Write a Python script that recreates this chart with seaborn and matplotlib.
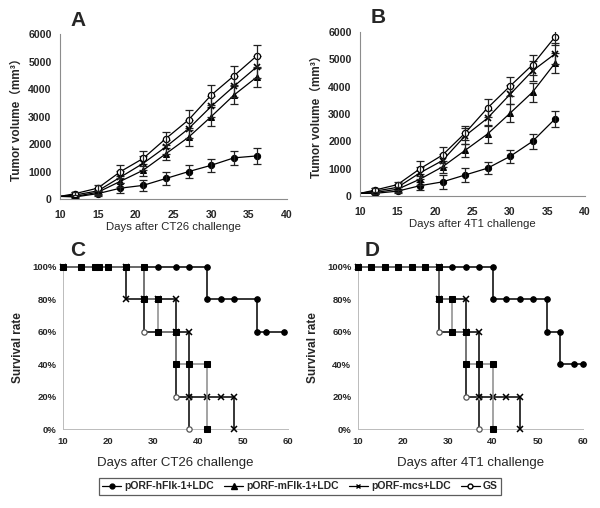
import matplotlib
matplotlib.use("Agg")
import matplotlib.pyplot as plt
from matplotlib.lines import Line2D
import seaborn as sns
import pandas as pd

# ---------------- data ----------------
days = [10, 12, 15, 18, 21, 24, 27, 30, 33, 36]

hflk_A = [100, 80, 200, 400, 500, 750, 1000, 1230, 1500, 1570]
mflk_A = [100, 100, 250, 650, 1050, 1650, 2250, 3000, 3780, 4430]
mcs_A = [100, 150, 300, 800, 1300, 1900, 2560, 3370, 4100, 4800]
gs_A = [100, 200, 400, 1000, 1480, 2200, 2880, 3780, 4480, 5200]
hflk_A_err = [0, 40, 80, 180, 200, 250, 250, 240, 260, 280]
mflk_A_err = [0, 40, 100, 200, 220, 220, 320, 350, 330, 350]
mcs_A_err = [0, 40, 100, 220, 250, 250, 330, 370, 380, 400]
gs_A_err = [0, 50, 100, 250, 270, 250, 350, 360, 350, 410]

hflk_B = [100, 100, 180, 380, 520, 770, 1020, 1450, 2000, 2820]
mflk_B = [100, 130, 250, 620, 1070, 1670, 2270, 3030, 3800, 4860]
mcs_B = [100, 180, 320, 850, 1300, 2200, 2850, 3720, 4580, 5200]
gs_B = [100, 220, 420, 1000, 1500, 2300, 3220, 4020, 4800, 5820]
hflk_B_err = [0, 40, 80, 150, 260, 250, 230, 250, 280, 290]
mflk_B_err = [0, 40, 100, 200, 220, 240, 320, 330, 350, 360]
mcs_B_err = [0, 50, 100, 230, 250, 280, 300, 340, 360, 380]
gs_B_err = [0, 60, 100, 270, 280, 250, 340, 350, 370, 280]

# survival (step curves written as event points)
hflk_C_days = [10, 14, 17, 18, 20, 24, 28, 31, 35, 38, 42, 42, 45, 48, 53, 53, 55, 59]
hflk_C_surv = [100] * 11 + [80, 80, 80, 80, 60, 60, 60]
mflk_C_days = [10, 14, 17, 18, 20, 24, 28, 28, 31, 31, 35, 35, 38, 42, 42]
mflk_C_surv = [100] * 7 + [80, 80, 60, 60, 40, 40, 40, 0]
mcs_C_days = [10, 24, 24, 28, 31, 35, 35, 38, 38, 42, 45, 48, 48]
mcs_C_surv = [100, 100, 80, 80, 80, 80, 60, 60, 20, 20, 20, 20, 0]
gs_C_days = [10, 28, 28, 31, 35, 35, 38, 38]
gs_C_surv = [100, 100, 60, 60, 60, 20, 20, 0]

hflk_D_days = [10, 13, 16, 19, 22, 25, 28, 31, 34, 37, 40, 40, 43, 46, 49, 52, 52, 55, 55, 58, 60]
hflk_D_surv = [100] * 11 + [80] * 5 + [60, 60] + [40, 40, 40]
mflk_D_days = [10, 13, 16, 19, 22, 25, 28, 28, 31, 31, 34, 34, 37, 40, 40]
mflk_D_surv = [100] * 7 + [80, 80, 60, 60, 40, 40, 40, 0]
mcs_D_days = [10, 28, 28, 34, 34, 37, 37, 40, 43, 46, 46]
mcs_D_surv = [100, 100, 80, 80, 60, 60, 20, 20, 20, 20, 0]
gs_D_days = [10, 28, 28, 31, 34, 34, 37, 37]
gs_D_surv = [100, 100, 60, 60, 60, 20, 20, 0]

labels = ["pORF-hFlk-1+LDC", "pORF-mFlk-1+LDC", "pORF-mcs+LDC", "GS"]
pct_ticks = [0, 20, 40, 60, 80, 100]
pct_labels = ["0%", "20%", "40%", "60%", "80%", "100%"]

# ---------------- style ----------------
sns.set_style("white")
plt.rcParams["font.family"] = ["Liberation Sans", "Noto Sans CJK SC", "DejaVu Sans"]

fig = plt.figure(figsize=(6.0, 5.08), dpi=100)
axA = fig.add_axes([0.100, 0.608, 0.378, 0.325])
axB = fig.add_axes([0.600, 0.614, 0.375, 0.323])
axC = fig.add_axes([0.105, 0.155, 0.375, 0.320])
axD = fig.add_axes([0.596, 0.155, 0.375, 0.320])

spine_col = "#8c8c8c"

markers = {
    labels[0]: dict(marker="o", mfc="black", mec="black", ms=4.5),
    labels[1]: dict(marker="^", mfc="black", mec="black", ms=5),
    labels[2]: dict(marker="x", mfc="black", mec="black", ms=5, mew=1.2),
    labels[3]: dict(marker="o", mfc="white", mec="black", ms=4.5, mew=0.9),
}


def growth(ax, series, errs, xlabel, letter, ly):
    for name, vals, err in zip(labels, series, errs):
        df = pd.DataFrame({"day": days, "vol": vals})
        sns.lineplot(data=df, x="day", y="vol", ax=ax, color="black", lw=0.9,
                     markevery=list(range(1, len(days))), **markers[name])
        ax.errorbar(days[1:], vals[1:], yerr=err[1:], fmt="none", ecolor="#222222",
                    elinewidth=0.9, capsize=3, capthick=0.9)
    ax.set_xlim(10, 40)
    ax.set_ylim(0, 6000)
    ax.set_xticks([10, 15, 20, 25, 30, 35, 40])
    ax.set_yticks(range(0, 6001, 1000))
    ax.tick_params(labelsize=7.6, length=3, width=0.8, color=spine_col, pad=3)
    ax.tick_params(axis="x", pad=5)
    for lab in ax.get_xticklabels() + ax.get_yticklabels():
        lab.set_fontweight("bold")
    for s in ["top", "right"]:
        ax.spines[s].set_visible(False)
    for s in ["left", "bottom"]:
        ax.spines[s].set_color(spine_col)
        ax.spines[s].set_linewidth(0.8)
    ax.set_xlabel(xlabel, fontsize=8.2, labelpad=1)
    ax.set_ylabel("Tumor volume（mm³）", fontsize=8.5, fontweight="bold", labelpad=4)
    ax.text(0.045, ly, letter, transform=ax.transAxes, fontsize=15,
            fontweight="bold", ha="left", va="center")


growth(axA, [hflk_A, mflk_A, mcs_A, gs_A], [hflk_A_err, mflk_A_err, mcs_A_err, gs_A_err],
       "Days after CT26 challenge", "A", 1.085)
growth(axB, [hflk_B, mflk_B, mcs_B, gs_B], [hflk_B_err, mflk_B_err, mcs_B_err, gs_B_err],
       "Days after 4T1 challenge", "B", 1.088)


def survival(ax, curves, xlabel, letter):
    styles = [
        dict(color="black", marker="o", ms=4, mfc="black", mec="black"),
        dict(color="#8a8a8a", marker="s", ms=4.5, mfc="black", mec="black"),
        dict(color="black", marker="x", ms=4.5, mew=1.1, mec="black"),
        dict(color="black", marker="o", ms=3.8, mfc="white", mec="#555555", mew=0.9),
    ]
    order = [0, 3, 2, 1]
    for i in order:
        d, s = curves[i]
        sns.lineplot(x=d, y=s, ax=ax, estimator=None, sort=False, lw=1.1,
                     clip_on=False, zorder=3 + (i == 1), **styles[i])
    ax.set_xlim(10, 60)
    ax.set_ylim(0, 100)
    ax.set_xticks([10, 20, 30, 40, 50, 60])
    ax.set_yticks(pct_ticks)
    ax.set_yticklabels(pct_labels)
    ax.tick_params(labelsize=6.8, length=2.5, width=0.6, color="#bbbbbb", pad=2)
    ax.tick_params(axis="x", pad=3)
    for lab in ax.get_xticklabels() + ax.get_yticklabels():
        lab.set_fontweight("bold")
    for s in ["top", "right"]:
        ax.spines[s].set_visible(False)
    for s in ["left", "bottom"]:
        ax.spines[s].set_color("#bbbbbb")
        ax.spines[s].set_linewidth(0.7)
    ax.set_xlabel(xlabel, fontsize=9.5, labelpad=8)
    ax.set_ylabel("Survival rate", fontsize=8.5, fontweight="bold", labelpad=6)
    ax.text(0.03, 1.10, letter, transform=ax.transAxes, fontsize=15,
            fontweight="bold", ha="left", va="center")


survival(axC, [(hflk_C_days, hflk_C_surv), (mflk_C_days, mflk_C_surv),
               (mcs_C_days, mcs_C_surv), (gs_C_days, gs_C_surv)],
         "Days after CT26 challenge", "C")
survival(axD, [(hflk_D_days, hflk_D_surv), (mflk_D_days, mflk_D_surv),
               (mcs_D_days, mcs_D_surv), (gs_D_days, gs_D_surv)],
         "Days after 4T1 challenge", "D")

handles = [
    Line2D([], [], color="black", lw=0.9, marker="o", ms=3.5, mfc="black", mec="black"),
    Line2D([], [], color="black", lw=0.9, marker="^", ms=4, mfc="black", mec="black"),
    Line2D([], [], color="black", lw=0.9, marker="x", ms=3.5, mec="black"),
    Line2D([], [], color="black", lw=0.9, marker="o", ms=3.5, mfc="white", mec="black"),
]
leg = fig.legend(handles, labels, loc="center", bbox_to_anchor=(0.5, 0.043), ncol=4,
                 frameon=True, fancybox=False, handlelength=1.8,
                 handletextpad=0.3, columnspacing=1.0, borderpad=0.35,
                 prop={"weight": "bold", "size": 7.5})
leg.get_frame().set_edgecolor("#333333")
leg.get_frame().set_linewidth(0.9)

fig.savefig("out.png", dpi=100)
